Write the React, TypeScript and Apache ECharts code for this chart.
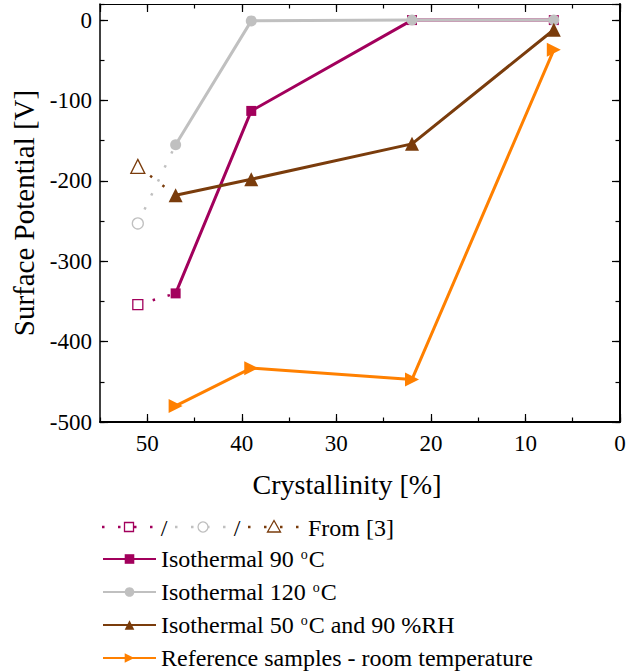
import React, { useEffect, useRef } from "react";
import * as echarts from "echarts";

// Crystallinity [%] of the measured samples
const crystallinity = [47, 39, 22, 7];
// Surface potential [V]
const iso90 = [-340, -113, 0, 0];
const iso120 = [-155, -1, 0, 0];
const iso50rh = [-218, -198, -154, -12];
const reference = [-480, -433, -447, -37];

// Values from [3] (open markers), linked to first measured point
const ref3X = [51, 47];
const ref3Iso90 = [-354, -340];
const ref3Iso120 = [-253, -155];
const ref3Iso50rh = [-182, -218];

const xTicksMajor = 10;
const xTicksMinor = 5;
const yTicksMajor = 100;
const yTicksMinor = 50;

const NAMES = [
  "Isothermal 90 °C",
  "Isothermal 120 °C",
  "Isothermal 50 °C and 90 %RH",
  "Reference samples - room temperature",
];

const C90 = "#a2005c";
const C120 = "#c0c0c0";
const C50 = "#7a3c0c";
const CREF = "#ff8000";
const FONT = "Liberation Serif, serif";

const zip = (xs: number[], ys: number[]) => xs.map((x, i) => [x, ys[i]]);

export default function App() {
  const ref = useRef<HTMLDivElement>(null);
  useEffect(() => {
    if (!ref.current) return;
    const chart = echarts.init(ref.current, undefined, { renderer: "svg" });

    const xBase = {
      type: "value" as const,
      min: 0,
      max: 55,
      inverse: true,
      splitLine: { show: false },
    };
    const yBase = {
      type: "value" as const,
      min: -500,
      max: 20,
      splitLine: { show: false },
    };
    const axisLine = { show: true, onZero: false, lineStyle: { color: "#000", width: 1.5 } };
    const noLine = { show: false, onZero: false };
    const majorTick = { show: true, inside: true, length: 8, lineStyle: { color: "#000", width: 1.2 } };
    const minorTick = { show: true, inside: true, length: 4.5, lineStyle: { color: "#000", width: 1.2 } };

    const dotted = (name: string, vals: number[], color: string, symbol: string, size: number) => ({
      name,
      type: "line",
      xAxisIndex: 0,
      yAxisIndex: 0,
      z: 1,
      data: [
        {
          value: [ref3X[0], vals[0]],
          symbol,
          symbolSize: size,
          itemStyle: { color: "#fff", borderColor: color, borderWidth: 1.3 },
        },
        { value: [ref3X[1], vals[1]], symbol: "none" },
      ],
      lineStyle: { color, width: 2.5, type: [2.5, 13] },
      itemStyle: { color: "#fff", borderColor: color },
    });

    const solid = (name: string, vals: number[], color: string, symbol: string, size: number, z: number, extra: any = {}) => ({
      name,
      type: "line",
      xAxisIndex: 0,
      yAxisIndex: 0,
      z,
      data: zip(crystallinity, vals),
      symbol,
      symbolSize: size,
      showAllSymbol: true,
      lineStyle: { color, width: 3 },
      itemStyle: { color, borderColor: color, borderWidth: 0 },
      ...extra,
    });

    chart.setOption({
      animation: false,
      backgroundColor: "#fff",
      grid: { left: 100, right: 18, top: 4, bottom: 250, containLabel: false },
      xAxis: [
        {
          ...xBase,
          position: "bottom",
          interval: xTicksMajor,
          axisLine: { ...axisLine, lineStyle: { color: "#000", width: 2 } },
          axisTick: majorTick,
          axisLabel: { show: true, color: "#000", fontSize: 23, fontFamily: FONT, margin: 10, showMaxLabel: false },
          name: "Crystallinity [%]",
          nameLocation: "middle",
          nameGap: 48,
          nameTextStyle: { color: "#000", fontSize: 28, fontFamily: FONT, padding: [0, 26, 0, 0] },
        },
        { ...xBase, position: "bottom", interval: xTicksMinor, axisLine: noLine, axisTick: minorTick, axisLabel: { show: false } },
        { ...xBase, position: "top", interval: xTicksMajor, axisLine: { ...axisLine, lineStyle: { color: "#000", width: 1.2 } }, axisTick: majorTick, axisLabel: { show: false } },
        { ...xBase, position: "top", interval: xTicksMinor, axisLine: noLine, axisTick: minorTick, axisLabel: { show: false } },
      ],
      yAxis: [
        {
          ...yBase,
          position: "left",
          interval: yTicksMajor,
          axisLine,
          axisTick: majorTick,
          axisLabel: { show: true, color: "#000", fontSize: 23, fontFamily: FONT, margin: 8, showMaxLabel: false },
          name: "Surface Potential [V]",
          nameLocation: "middle",
          nameGap: 60,
          nameTextStyle: { color: "#000", fontSize: 29, fontFamily: FONT },
        },
        { ...yBase, position: "left", interval: yTicksMinor, axisLine: noLine, axisTick: minorTick, axisLabel: { show: false } },
        { ...yBase, position: "right", interval: yTicksMajor, axisLine: { ...axisLine, lineStyle: { color: "#000", width: 2 } }, axisTick: majorTick, axisLabel: { show: false } },
        { ...yBase, position: "right", interval: yTicksMinor, axisLine: noLine, axisTick: minorTick, axisLabel: { show: false } },
      ],
      legend: {
        orient: "vertical",
        left: 102,
        top: 547,
        padding: 0,
        itemGap: 9,
        itemWidth: 53,
        itemHeight: 12,
        data: NAMES,
        formatter: (name: string) => name.replace("°C", "{sup|o}C"),
        textStyle: {
          color: "#000",
          fontSize: 24,
          fontFamily: FONT,
          lineHeight: 24,
          rich: {
            sup: { fontSize: 14, fontFamily: FONT, color: "#000", verticalAlign: "top", lineHeight: 24, padding: [0, 1, 8, 1] },
          },
        },
      },
      graphic: [
        { type: "line", shape: { x1: 102, y1: 527, x2: 155, y2: 527 }, style: { stroke: C90, lineWidth: 2.5, lineDash: [2.5, 13.5] } },
        { type: "rect", shape: { x: 124.5, y: 522.5, width: 9, height: 9 }, style: { fill: "#fff", stroke: C90, lineWidth: 1.3 } },
        { type: "text", x: 164, y: 528, style: { text: "/", fontSize: 24, fontFamily: FONT, fill: "#000", align: "center", verticalAlign: "middle" } },
        { type: "line", shape: { x1: 175, y1: 527, x2: 228, y2: 527 }, style: { stroke: C120, lineWidth: 2.5, lineDash: [2.5, 13.5] } },
        { type: "circle", shape: { cx: 203, cy: 527, r: 5 }, style: { fill: "#fff", stroke: C120, lineWidth: 1.3 } },
        { type: "text", x: 237, y: 528, style: { text: "/", fontSize: 24, fontFamily: FONT, fill: "#000", align: "center", verticalAlign: "middle" } },
        { type: "line", shape: { x1: 248, y1: 527, x2: 300, y2: 527 }, style: { stroke: C50, lineWidth: 2.5, lineDash: [2.5, 13.5] } },
        { type: "polygon", shape: { points: [[274, 520.5], [267.5, 532], [280.5, 532]] }, style: { fill: "#fff", stroke: C50, lineWidth: 1.3 } },
        { type: "text", x: 308, y: 528, style: { text: "From [3]", fontSize: 24, fontFamily: FONT, fill: "#000", align: "left", verticalAlign: "middle" } },
      ],
      series: [
        dotted("ref3-90", ref3Iso90, C90, "rect", 10),
        dotted("ref3-120", ref3Iso120, C120, "circle", 11),
        dotted("ref3-50", ref3Iso50rh, C50, "triangle", 14),
        solid(NAMES[0], iso90, C90, "rect", 10, 2),
        solid(NAMES[1], iso120, C120, "circle", 11, 3),
        solid(NAMES[2], iso50rh, C50, "triangle", 14, 4),
        solid(NAMES[3], reference, CREF, "triangle", 14, 5, { symbolRotate: -90 }),
      ],
    });
    return () => chart.dispose();
  }, []);
  return <div ref={ref} style={{ width: 638, height: 672, position: "absolute", left: 0, top: 0 }} />;
}
